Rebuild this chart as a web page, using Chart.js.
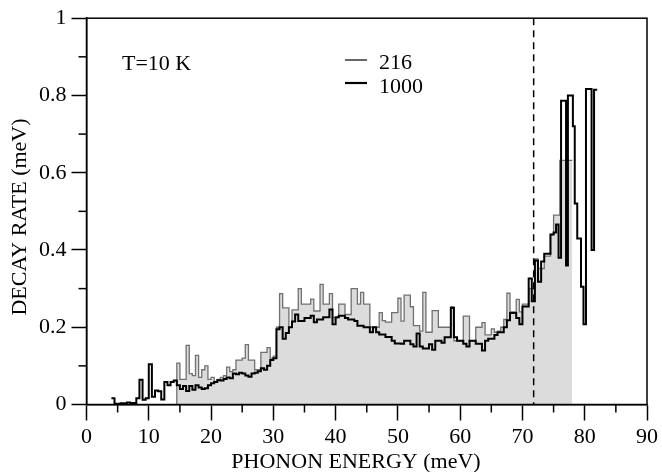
<!DOCTYPE html>
<html>
<head>
<meta charset="utf-8">
<script src="https://cdn.jsdelivr.net/npm/chart.js@4"></script>
<style>
  html, body { margin: 0; padding: 0; background: #fff; }
  #wrap { width: 662px; height: 472px; }
</style>
</head>
<body>
<div id="wrap"><canvas id="decayChart" width="662" height="472"></canvas></div>
<script>
// histogram bins, 0.5 meV wide, values are left-edge bins
const binWidth = 0.5;

const start216 = 14.5;
const end216 = 78.0;
const rate216 = [
  0.107, 0.065, 0.065, 0.153, 0.08, 0.075, 0.127, 0.07, 0.09, 0.10,
  0.065, 0.07, 0.06, 0.065, 0.07, 0.075, 0.097, 0.085, 0.09, 0.115,
  0.115, 0.12, 0.155, 0.115, 0.115, 0.09, 0.09, 0.135, 0.135, 0.147,
  0.12, 0.125, 0.20, 0.287, 0.25, 0.25, 0.20, 0.245, 0.245, 0.30,
  0.26, 0.26, 0.26, 0.273, 0.242, 0.242, 0.311, 0.26, 0.26, 0.287,
  0.225, 0.225, 0.26, 0.26, 0.233, 0.233, 0.30, 0.30, 0.26, 0.29,
  0.26, 0.26, 0.20, 0.20, 0.20, 0.238, 0.217, 0.213, 0.213, 0.238,
  0.238, 0.275, 0.216, 0.283, 0.283, 0.253, 0.204, 0.204, 0.19, 0.29,
  0.187, 0.187, 0.243, 0.243, 0.2, 0.2, 0.2, 0.2, 0.253, 0.165,
  0.165, 0.165, 0.229, 0.229, 0.165, 0.165, 0.2, 0.2, 0.212, 0.18,
  0.18, 0.196, 0.187, 0.19, 0.2, 0.22, 0.288, 0.24, 0.24, 0.272,
  0.24, 0.26, 0.26, 0.30, 0.30, 0.377, 0.352, 0.352, 0.384, 0.384,
  0.44, 0.49, 0.49, 0.632, 0.632, 0.632, 0.632
];

const start1000 = 4.0;
const rate1000 = [
  0.016, 0.002, 0.002, 0.003, 0.003, 0.005, 0.004, 0.004, 0.016, 0.064,
  0.012, 0.016, 0.104, 0.02, 0.036, 0.034, 0.013, 0.058, 0.05, 0.058,
  0.062, 0.05, 0.04, 0.048, 0.035, 0.048, 0.038, 0.05, 0.044, 0.04,
  0.042, 0.05, 0.055, 0.058, 0.063, 0.062, 0.066, 0.07, 0.068, 0.08,
  0.078, 0.082, 0.08, 0.075, 0.072, 0.08, 0.082, 0.086, 0.094, 0.09,
  0.1, 0.115, 0.12, 0.195, 0.2, 0.17, 0.185, 0.2, 0.215, 0.233,
  0.216, 0.216, 0.224, 0.224, 0.23, 0.213, 0.22, 0.22, 0.226, 0.226,
  0.246, 0.208, 0.226, 0.23, 0.23, 0.224, 0.22, 0.22, 0.216, 0.204,
  0.204, 0.2, 0.2, 0.187, 0.2, 0.187, 0.181, 0.181, 0.175, 0.175,
  0.165, 0.158, 0.158, 0.157, 0.165, 0.165, 0.156, 0.15, 0.184, 0.15,
  0.145, 0.145, 0.156, 0.142, 0.165, 0.165, 0.16, 0.174, 0.174, 0.25,
  0.174, 0.165, 0.165, 0.157, 0.15, 0.165, 0.165, 0.157, 0.157, 0.14,
  0.165, 0.17, 0.17, 0.18, 0.187, 0.187, 0.2, 0.218, 0.237, 0.237,
  0.224, 0.208, 0.254, 0.254, 0.326, 0.267, 0.373, 0.318, 0.37, 0.39,
  0.39, 0.44, 0.445
];
// irregular bins at the high-energy end
const tailEdges1000 = [75.4, 75.8, 76.2, 77.0, 77.3, 78.1, 78.4, 78.8, 79.4, 79.8, 80.2, 81.1, 81.5];
const tailRate1000 = [0.466, 0.38, 0.786, 0.36, 0.80, 0.72, 0.52, 0.43, 0.305, 0.208, 0.817, 0.40, 0.815];
const end1000 = 82.0;

const cutoffEnergy = 71.8;
const xTicks = [0, 10, 20, 30, 40, 50, 60, 70, 80, 90];
const xMinorTicks = [5, 15, 25, 35, 45, 55, 65, 75, 85];
const yTickLabels = ['0', '0.2', '0.4', '0.6', '0.8', '1'];
const yMinorTicks = [0.1, 0.3, 0.5, 0.7, 0.9];

function binPoints(start, values) {
  return values.map((v, i) => ({ x: start + i * binWidth, y: v }));
}

const pts216 = [{ x: start216, y: 0 }].concat(binPoints(start216, rate216));
pts216.push({ x: end216, y: rate216[rate216.length - 1] });

const pts1000 = binPoints(start1000, rate1000)
  .concat(tailEdges1000.map((e, i) => ({ x: e, y: tailRate1000[i] })));
pts1000.push({ x: end1000, y: tailRate1000[tailRate1000.length - 1] });

const FONT = 'Liberation Serif, Times New Roman, serif';
Chart.defaults.font.family = FONT;
Chart.defaults.color = '#000';

const extras = {
  id: 'extras',
  afterDraw(chart) {
    const { ctx, chartArea: a, scales: { x, y } } = chart;
    const line = (x1, y1, x2, y2) => {
      ctx.beginPath(); ctx.moveTo(x1, y1); ctx.lineTo(x2, y2); ctx.stroke();
    };
    ctx.save();
    ctx.strokeStyle = '#000';
    ctx.lineWidth = 1.5;
    ctx.strokeRect(a.left, a.top, a.right - a.left, a.bottom - a.top);

    xMinorTicks.forEach(v => {
      const px = x.getPixelForValue(v);
      line(px, a.bottom, px, a.bottom + 8);
    });
    yMinorTicks.forEach(v => {
      const py = y.getPixelForValue(v);
      line(a.left - 8, py, a.left, py);
    });

    // cutoff marker
    ctx.setLineDash([7, 5]);
    const cx = x.getPixelForValue(cutoffEnergy);
    line(cx, a.top, cx, a.bottom);
    ctx.setLineDash([]);

    // legend
    ctx.lineWidth = 1.2;
    line(345, 60, 367, 60);
    ctx.lineWidth = 2.2;
    line(345, 83, 367, 83);

    ctx.fillStyle = '#000';
    ctx.font = '22px ' + FONT;
    ctx.textBaseline = 'alphabetic';
    ctx.textAlign = 'left';
    ctx.fillText('216', 379, 69);
    ctx.fillText('1000', 379, 93);
    ctx.fillText('T=10 K', 122, 70);

    // axis titles
    ctx.textAlign = 'center';
    ctx.fillText('PHONON ENERGY (meV)', 356, 468);
    ctx.translate(26, 217);
    ctx.rotate(-Math.PI / 2);
    ctx.fillText('DECAY RATE (meV)', 0, 0);
    ctx.restore();
  }
};

new Chart(document.getElementById('decayChart'), {
  type: 'line',
  data: {
    datasets: [
      {
        label: '1000',
        data: pts1000,
        stepped: 'before',
        borderColor: '#000',
        borderWidth: 2,
        pointRadius: 0,
        fill: false,
        order: 0
      },
      {
        label: '216',
        data: pts216,
        stepped: 'before',
        borderColor: '#707070',
        borderWidth: 1.3,
        backgroundColor: '#dcdcdc',
        pointRadius: 0,
        fill: 'origin',
        order: 1
      }
    ]
  },
  options: {
    responsive: false,
    animation: false,
    layout: { autoPadding: false, padding: { left: 0, right: 14, top: 12, bottom: 0 } },
    plugins: { legend: { display: false }, tooltip: { enabled: false } },
    scales: {
      x: {
        type: 'linear',
        min: 0,
        max: 90,
        afterFit(scale) { scale.height = 67.5; },
        afterBuildTicks(scale) { scale.ticks = xTicks.map(v => ({ value: v })); },
        ticks: { font: { size: 22 }, padding: 4, maxRotation: 0, callback: v => String(v) },
        grid: { drawOnChartArea: false, tickLength: 16, tickColor: '#000', tickWidth: 1.5 },
        border: { color: '#000', width: 1.5 }
      },
      y: {
        min: 0,
        max: 1,
        afterFit(scale) { scale.width = 86.5; },
        ticks: {
          stepSize: 0.2,
          font: { size: 22 },
          padding: 5,
          callback: (v) => yTickLabels[Math.round(v / 0.2)]
        },
        grid: { drawOnChartArea: false, tickLength: 15, tickColor: '#000', tickWidth: 1.5 },
        border: { color: '#000', width: 1.5 }
      }
    }
  },
  plugins: [extras]
});
</script>
</body>
</html>
